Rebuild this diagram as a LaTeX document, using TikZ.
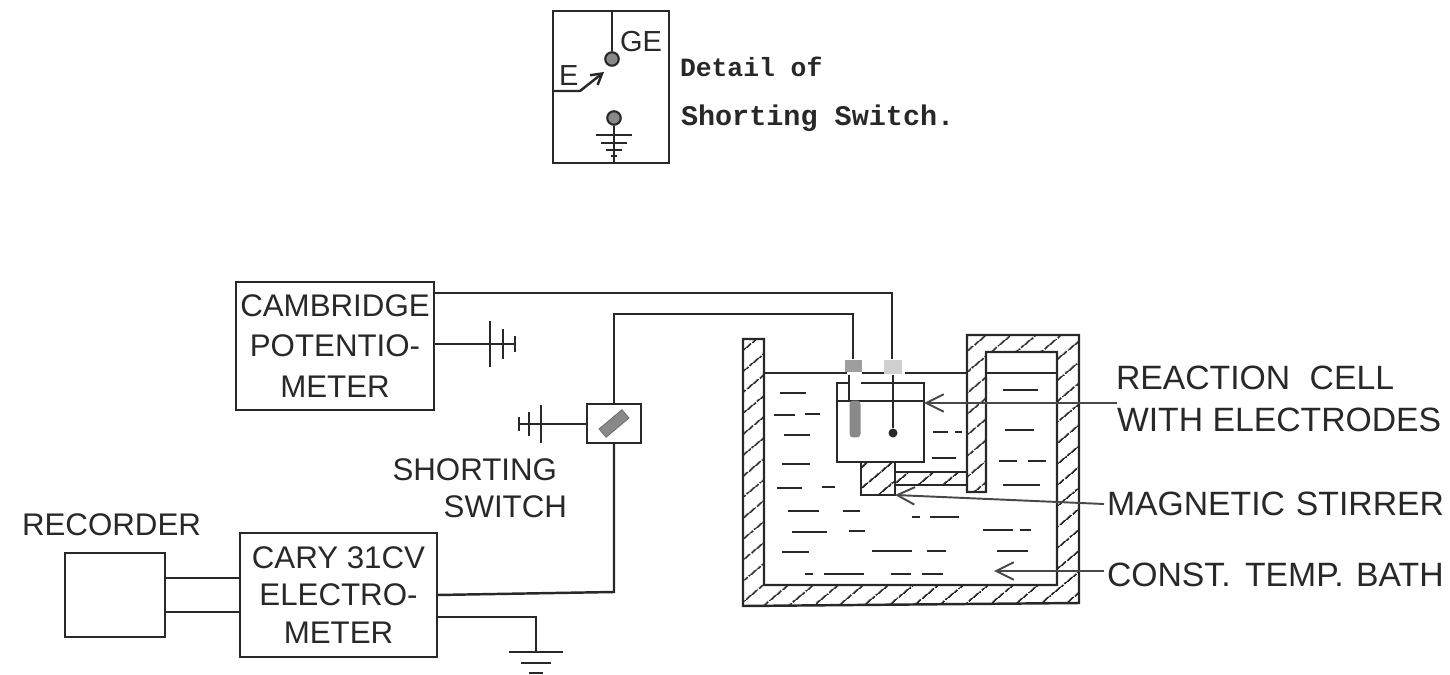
\documentclass[tikz,border=0pt]{standalone}
\usepackage{fontspec}
\setmainfont{Liberation Sans}
\newfontfamily\notefont[Scale=1.0]{Liberation Mono}
\usetikzlibrary{arrows.meta,positioning,patterns.meta}
\definecolor{ink}{RGB}{40,40,40}
\newcommand{\bigtext}{\fontsize{17.8}{21}\selectfont}
\newcommand{\sidetext}{\fontsize{19.2}{22}\selectfont}
\tikzstyle{box} = [rectangle, draw=ink, line width=1.4pt, text=ink, align=center, inner sep=0pt, outer sep=0pt, font=\bigtext]
\tikzstyle{lbl} = [text=ink, inner sep=0pt, outer sep=0pt, anchor=west, font=\bigtext]
\tikzstyle{sidelbl} = [text=ink, inner sep=0pt, outer sep=0pt, anchor=west, font=\sidetext]
\tikzstyle{notelbl} = [text=ink, inner sep=0pt, outer sep=0pt, anchor=west, font=\notefont\bfseries\fontsize{15}{18}\selectfont]
\tikzstyle{wire} = [draw=ink, line width=1.4pt]
\tikzstyle{ripple} = [draw=ink, line width=1.3pt]
\tikzstyle{leader} = [draw=ink!85, line width=1.1pt, -{Straight Barb[length=10pt,width=10pt]}]
\tikzstyle{hatch} = [draw=ink, line width=1.4pt, pattern={Lines[angle=40,distance=0.34cm,line width=1.1pt]}, pattern color=ink]
\tikzstyle{dot} = [circle, draw=ink, line width=1.2pt, fill=ink!55, inner sep=0pt, minimum size=0.27cm]

\begin{document}
\begin{tikzpicture}[x=0.02cm,y=-0.02cm]
\useasboundingbox (0,0) rectangle (1450,675);

% Switch detail =============================
\node[box, minimum width=2.32cm, minimum height=3.04cm] (detail) at (611,87) {};
\node[dot] (ge-dot) at (612,59) {};
\node[dot] (gnd-dot) at (614,118) {};
\node[lbl, font=\fontsize{16.5}{18}\selectfont] (ge-text) at (620,42) {GE};
\node[lbl, font=\fontsize{16.5}{18}\selectfont] (e-text) at (559,76) {E};
\node[notelbl] (note-a) at (680,67) {Detail of};
\node[notelbl, font=\notefont\bfseries\fontsize{16.2}{18}\selectfont] (note-b) at (681,118) {Shorting Switch.};
\coordinate (e-bend) at (580,91);
\coordinate (e-tip) at (604,72);

\draw[wire] (detail.north -| ge-dot) -- (ge-dot);
\draw[wire] (gnd-dot) -- (detail.south -| gnd-dot);
\draw[wire, -{Straight Barb[length=6pt,width=7pt]}] (detail.west |- e-bend) -- (e-bend) -- (e-tip);
\foreach \yy/\ww in {135/18,143/13,150/8,156/3}
  \draw[wire] ([xshift=-\ww*0.02cm]gnd-dot |- 0,\yy) -- ([xshift=\ww*0.02cm]gnd-dot |- 0,\yy);

% Instruments =============================
\node[box, minimum width=3.96cm, minimum height=2.56cm] (cambridge) at (335,346) {CAMBRIDGE\\[0.08cm]POTENTIO-\\[0.08cm]METER};
\node[box, minimum width=3.94cm, minimum height=2.48cm] (cary) at (338.5,595) {CARY 31CV\\[0.02cm]ELECTRO-\\[0.02cm]METER};
\node[box, left=1.5cm of cary, minimum width=2cm, minimum height=1.68cm] (recorder) {};
\node[lbl] (recorder-text) at (22,525) {RECORDER};
\node[box, minimum width=1.08cm, minimum height=0.78cm] (switch) at (614,423.5) {};
\node[rectangle, rotate=40, fill=ink!55, draw=ink!70, inner sep=0pt, minimum width=0.6cm, minimum height=0.22cm] (switch-blade) at (switch) {};
\node[lbl, anchor=east, align=right] (switch-text) at (567,488) {SHORTING\hspace*{0.2cm}\\SWITCH};

% Bath =============================
\path[hatch] (743,339) -- (764,339) -- (764,585) -- (1057,585) -- (1057,352) -- (986,352) -- (986,492) -- (967,492) -- (967,335) -- (1079,335) -- (1079,603) -- (743,606) -- cycle;
\node[box, minimum width=1.74cm, minimum height=1.58cm] (cell) at (880.5,422.5) {};
\node[box, hatch, minimum width=0.68cm, minimum height=0.66cm] (stirrer) at (878,478.5) {};
\node[box, hatch, anchor=west, minimum width=1.44cm, minimum height=0.26cm] (arm) at (895,478.5) {};
\draw[wire] (764,373) -- (847,373);
\draw[wire] (862,373) -- (884,373);
\draw[wire] (905,373) -- (967,373);
\draw[wire] (986,373) -- (1057,373);
\draw[wire] (cell.west |- 0,401) -- (cell.east |- 0,401);
\foreach \xa/\xb/\yy in {780/806/393,774/795/415,805/820/414,784/810/435,782/810/464,777/802/488,822/835/487,788/819/511,843/860/511,792/827/532,849/865/531,782/809/552,872/912/551,927/946/551,805/813/574,824/864/574,891/911/574,922/943/574,912/920/517,930/959/517,983/1013/530,1020/1031/530,997/1028/551,1003/1038/390,1005/1034/430,999/1017/461,1028/1046/461,1003/1040/485,933/948/432,955/962/432,932/956/458}
  \draw[ripple] (\xa,\yy) -- (\xb,\yy);

% Electrodes =============================
\fill[white] (848,373) rectangle (861,400);
\draw[wire] (849,375) -- (849,400);
\node[rectangle, fill=ink!45, inner sep=0pt, minimum width=0.34cm, minimum height=0.26cm] (ref-head) at (853.5,366) {};
\node[rectangle, rounded corners=2pt, fill=ink!55, inner sep=0pt, minimum width=0.22cm, minimum height=0.74cm] (ref-tube) at (855,419) {};
\node[rectangle, fill=ink!22, inner sep=0pt, minimum width=0.36cm, minimum height=0.3cm] (ge-head) at (893,367) {};
\node[circle, fill=ink, inner sep=0pt, minimum size=0.18cm] (ge-tip) at (893,433) {};
\draw[wire] (ge-head) -- (ge-tip);

% Wires =============================
\coordinate (ge-corner) at (892,293);
\coordinate (ref-corner) at (853,314);
\coordinate (cary-corner) at (614,592);
\coordinate (gnd-corner) at (536,617);
\coordinate (gnd-top) at (536,652);
\coordinate (batt-a) at (515,344);
\coordinate (batt-b) at (519,424);

\draw[wire] (cambridge.east |- ge-corner) -- (ge-corner) -- (ge-head.north -| ge-corner);
\draw[wire] (switch.north) -- (switch.north |- ref-corner) -- (ref-corner) -- (ref-head.north -| ref-corner);
\draw[wire] (cary.east) -- (cary-corner) -- (switch.south);
\draw[wire] (cary.east |- gnd-corner) -- (gnd-corner) -- (gnd-top);
\draw[wire] ([yshift=0.34cm]recorder.east) -- ([yshift=0.34cm]cary.west);
\draw[wire] ([yshift=-0.34cm]recorder.east) -- ([yshift=-0.34cm]cary.west);
\draw[wire] (cambridge.east |- batt-a) -- (batt-a);
\draw[wire] (switch.west |- batt-b) -- (batt-b);

% batteries and earth
\foreach \xx/\ww in {490/23,503/15,515/8}
  \draw[wire] (\xx,344-\ww) -- (\xx,344+\ww);
\foreach \xx/\ww in {541/19,529/12,519/7}
  \draw[wire] (\xx,424-\ww) -- (\xx,424+\ww);
\foreach \yy/\ww in {652/27,663/15,673/7}
  \draw[wire] (536-\ww,\yy) -- (536+\ww,\yy);

% Labels =============================
\node[sidelbl] (cell-a) at (1116,378) {REACTION\hspace{0.2cm} CELL};
\node[sidelbl] (cell-b) at (1117,420) {WITH ELECTRODES};
\node[sidelbl] (stirrer-text) at (1107,504) {MAGNETIC\hspace{0.03cm} STIRRER};
\node[sidelbl] (bath-text) at (1107,575) {CONST.\hspace{0.1cm} TEMP.\hspace{0.06cm} BATH};

\draw[leader] (cell-b.north west |- 0,403) -- (cell.east |- 0,403);
\draw[leader] ([xshift=-0.06cm]stirrer-text.west) -- (stirrer.south east);
\draw[leader] ([xshift=-0.06cm]bath-text.west |- 0,571) -- (994,571);

\end{tikzpicture}
\end{document}
